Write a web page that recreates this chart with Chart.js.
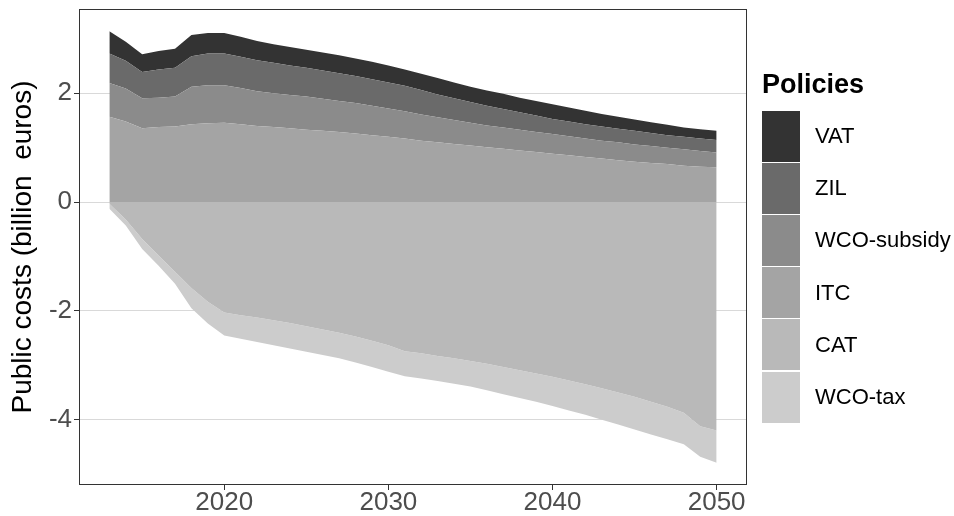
<!DOCTYPE html>
<html>
<head>
<meta charset="utf-8">
<title>Public costs by policy</title>
<script src="https://cdn.jsdelivr.net/npm/chart.js@4.4.0/dist/chart.umd.min.js"></script>
<style>
    body { margin: 0; background: #ffffff; font-family: "Liberation Sans", Arial, sans-serif; }
    #wrap { position: relative; width: 954px; height: 516px; }
    #legend { position: absolute; left: 762px; top: 69px; color: #000000; }
    #legend .title { font-weight: bold; font-size: 27px; line-height: 30px; height: 41px; }
    #legend .item { display: flex; align-items: center; height: 52.2px; }
    #legend .box { width: 38px; height: 51px; }
    #legend .label { margin-left: 15px; font-size: 22px; }
</style>
</head>
<body>
<div id="wrap">
    <canvas id="costChart"></canvas>
    <div id="legend"></div>
</div>
<script>
// years on the x axis
const years = [2013, 2014, 2015, 2016, 2017, 2018, 2019, 2020, 2021, 2022,
    2023, 2024, 2025, 2026, 2027, 2028, 2029, 2030, 2031, 2032,
    2033, 2034, 2035, 2036, 2037, 2038, 2039, 2040, 2041, 2042,
    2043, 2044, 2045, 2046, 2047, 2048, 2049, 2050];

// positive public costs (billion euros)
const vat = [0.41, 0.35, 0.33, 0.34, 0.35, 0.39, 0.38, 0.38, 0.37, 0.35,
    0.34, 0.34, 0.33, 0.33, 0.33, 0.32, 0.32, 0.31, 0.30, 0.30,
    0.30, 0.29, 0.28, 0.28, 0.28, 0.27, 0.27, 0.27, 0.26, 0.25,
    0.23, 0.22, 0.21, 0.20, 0.19, 0.17, 0.17, 0.17];
const zil = [0.54, 0.51, 0.48, 0.52, 0.53, 0.56, 0.58, 0.58, 0.57, 0.57,
    0.56, 0.54, 0.53, 0.52, 0.51, 0.50, 0.49, 0.48, 0.47, 0.45,
    0.42, 0.40, 0.38, 0.36, 0.34, 0.32, 0.30, 0.28, 0.27, 0.26,
    0.26, 0.25, 0.25, 0.24, 0.23, 0.23, 0.23, 0.23];
const wcoSubsidy = [0.62, 0.61, 0.55, 0.54, 0.55, 0.69, 0.70, 0.69, 0.67, 0.64,
    0.62, 0.61, 0.61, 0.59, 0.57, 0.56, 0.54, 0.52, 0.50, 0.48,
    0.46, 0.44, 0.42, 0.40, 0.39, 0.38, 0.37, 0.36, 0.35, 0.34,
    0.33, 0.33, 0.32, 0.31, 0.30, 0.30, 0.29, 0.27];
const itc = [1.57, 1.48, 1.36, 1.38, 1.39, 1.43, 1.45, 1.46, 1.43, 1.40,
    1.38, 1.36, 1.33, 1.31, 1.29, 1.26, 1.23, 1.20, 1.17, 1.13,
    1.10, 1.07, 1.04, 1.01, 0.98, 0.95, 0.92, 0.89, 0.86, 0.83,
    0.80, 0.77, 0.74, 0.72, 0.70, 0.67, 0.65, 0.64];

// negative public costs (revenues)
const cat = [-0.03, -0.32, -0.68, -0.98, -1.28, -1.58, -1.83, -2.03, -2.08, -2.12,
    -2.17, -2.22, -2.28, -2.34, -2.40, -2.47, -2.55, -2.63, -2.74, -2.78,
    -2.83, -2.87, -2.92, -2.97, -3.03, -3.09, -3.15, -3.21, -3.28, -3.35,
    -3.42, -3.50, -3.58, -3.67, -3.76, -3.87, -4.12, -4.20];
const wcoTax = [-0.09, -0.11, -0.18, -0.19, -0.22, -0.37, -0.40, -0.42, -0.43, -0.45,
    -0.46, -0.47, -0.47, -0.47, -0.47, -0.48, -0.48, -0.49, -0.46, -0.46,
    -0.46, -0.47, -0.47, -0.49, -0.50, -0.51, -0.52, -0.54, -0.55, -0.56,
    -0.58, -0.59, -0.60, -0.60, -0.60, -0.58, -0.56, -0.59];

const policies = ['VAT', 'ZIL', 'WCO-subsidy', 'ITC', 'CAT', 'WCO-tax'];
const policyColors = ['#333333', '#6a6a6a', '#8b8b8b', '#a4a4a4', '#b9b9b9', '#cccccc'];

const xTicks = [2020, 2030, 2040, 2050];
const yTicks = [-4, -2, 0, 2];

function toPoints(values) {
    return values.map((v, i) => ({ x: years[i], y: v }));
}

function areaSet(name, values, fill) {
    const color = policyColors[policies.indexOf(name)];
    return {
        label: name,
        data: toPoints(values),
        backgroundColor: color,
        borderColor: 'transparent',
        borderWidth: 0,
        pointRadius: 0,
        tension: 0,
        fill: fill,
    };
}

// box round the panel, like the ggplot border
const panelBorder = {
    id: 'panelBorder',
    afterDatasetsDraw(chart) {
        const { ctx, chartArea } = chart;
        ctx.save();
        ctx.strokeStyle = '#333333';
        ctx.lineWidth = 1;
        ctx.strokeRect(chartArea.left + 0.5, chartArea.top + 0.5, chartArea.width - 1, chartArea.height - 1);
        ctx.restore();
    }
};

const ctx = document.getElementById('costChart').getContext('2d');

// stacking goes outwards from zero in dataset order
const myChart = new Chart(ctx, {
    type: 'line',
    data: {
        datasets: [
            areaSet('ITC', itc, 'origin'),
            areaSet('WCO-subsidy', wcoSubsidy, '-1'),
            areaSet('ZIL', zil, '-1'),
            areaSet('VAT', vat, '-1'),
            areaSet('CAT', cat, 'origin'),
            areaSet('WCO-tax', wcoTax, '-1'),
        ],
    },
    options: {
        responsive: true,
        maintainAspectRatio: false,
        animation: false,
        layout: {
            padding: { top: 9, right: 207, left: 0, bottom: 0 },
        },
        plugins: {
            legend: { display: false },
            tooltip: { enabled: false },
        },
        scales: {
            x: {
                type: 'linear',
                min: 2011.15,
                max: 2051.85,
                afterBuildTicks: (scale) => { scale.ticks = xTicks.map(v => ({ value: v })); },
                afterFit: (scale) => { scale.height = 31; },
                grid: {
                    drawOnChartArea: false,
                    tickLength: 5,
                    tickColor: '#333333',
                },
                border: { display: false },
                ticks: {
                    padding: -3,
                    color: '#4d4d4d',
                    font: { family: '"Liberation Sans", Arial', size: 26 },
                    callback: (v) => String(v),
                },
            },
            y: {
                stacked: true,
                min: -5.2,
                max: 3.55,
                afterBuildTicks: (scale) => { scale.ticks = yTicks.map(v => ({ value: v })); },
                afterFit: (scale) => {
                    scale.width = 79;
                    // no extra room for the end labels, the panel starts right at the top
                    scale.paddingTop = 0;
                    scale.paddingBottom = 0;
                },
                grid: {
                    color: '#d9d9d9',
                    lineWidth: 1,
                    tickLength: 5,
                    tickColor: '#333333',
                },
                border: { display: false },
                ticks: {
                    padding: 2,
                    color: '#4d4d4d',
                    font: { family: '"Liberation Sans", Arial', size: 26 },
                    callback: (v) => String(v),
                },
                title: {
                    display: true,
                    text: 'Public costs (billion  euros)',
                    color: '#000000',
                    padding: { top: 6, bottom: 0 },
                    font: { family: '"Liberation Sans", Arial', size: 28 },
                },
            },
        },
    },
    plugins: [panelBorder],
});

// legend in the ggplot style, built from the policy list
let legendElement = document.querySelector('#legend');
let legendHtml = '<div class="title">Policies</div>';
for (let i in policies) {
    legendHtml += `<div class="item"><div class="box" style="background:${policyColors[i]}"></div><div class="label">${policies[i]}</div></div>`;
}
legendElement.innerHTML = legendHtml;
</script>
</body>
</html>
